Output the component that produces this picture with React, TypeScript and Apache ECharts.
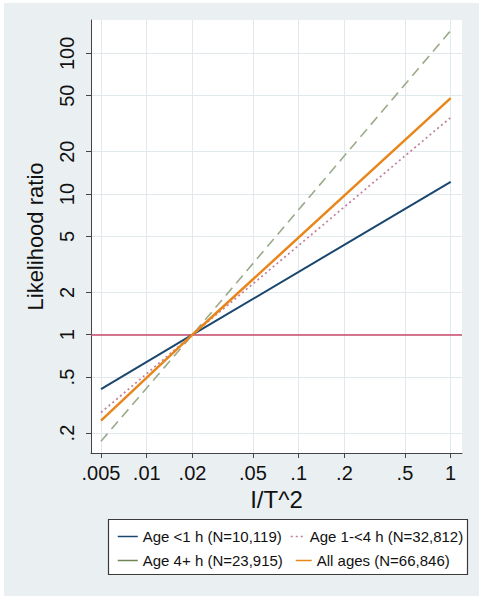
import React, { useEffect, useRef } from "react";
import * as echarts from "echarts";

// Axis ticks
const xTicks = [0.005, 0.01, 0.02, 0.05, 0.1, 0.2, 0.5, 1];
const yTicks = [0.2, 0.5, 1, 2, 5, 10, 20, 50, 100];

const xPoints = [0.005, 0.02, 1];
const ageLt1 = [0.41, 1, 12.2];
const age1to4 = [0.28, 1, 35];
const age4plus = [0.175, 1, 145];
const allAges = [0.245, 1, 48];
const refValue = 1;

const seriesNames = [
  "Age <1 h (N=10,119)",
  "Age 1-<4 h (N=32,812)",
  "Age 4+ h (N=23,915)",
  "All ages (N=66,846)",
];

const FONT = "'Liberation Sans', Arial, Helvetica, sans-serif";

const fmt = (v: number) => {
  const s = String(+Number(v).toPrecision(6));
  return s.startsWith("0.") ? s.slice(1) : s;
};

const pairs = (ys: number[]) => xPoints.map((x, i) => [x, ys[i]]);

export default function App() {
  const ref = useRef<HTMLDivElement>(null);
  useEffect(() => {
    if (!ref.current) return;
    const chart = echarts.init(ref.current, null, { renderer: "svg" });
    const axisLineStyle = { color: "#444", width: 1 };
    const legendBase = {
      orient: "horizontal",
      padding: 0,
      itemHeight: 14,
      z: 10,
      itemStyle: { opacity: 0, borderWidth: 0 },
      lineStyle: { width: 1.5 },
      textStyle: { fontSize: 15, color: "#111", fontFamily: FONT },
      selectedMode: false,
    };
    chart.setOption({
      animation: false,
      backgroundColor: "#eaf0f2",
      textStyle: { fontFamily: FONT },
      grid: {
        left: 87,
        top: 17,
        width: 371,
        height: 433,
        show: true,
        backgroundColor: "#ffffff",
        borderWidth: 0,
      },
      xAxis: {
        type: "log",
        logBase: 10,
        min: 0.004297,
        max: 1.187,
        name: "I/T^2",
        nameLocation: "middle",
        nameGap: 31,
        nameTextStyle: { fontSize: 24, color: "#111", fontFamily: FONT },
        axisLine: { show: true, lineStyle: axisLineStyle },
        axisTick: { show: true, length: 5, customValues: xTicks, lineStyle: axisLineStyle },
        axisLabel: {
          customValues: xTicks,
          formatter: (v: number) => fmt(v),
          fontSize: 20,
          color: "#111",
          margin: 10,
          fontFamily: FONT,
        },
        splitLine: { show: true, lineStyle: { color: "#e2e9ec", width: 1 } },
        minorTick: { show: false },
        minorSplitLine: { show: false },
      },
      yAxis: {
        type: "log",
        logBase: 10,
        min: 0.1443,
        max: 172.5,
        name: "Likelihood ratio",
        nameLocation: "middle",
        nameGap: 45,
        nameTextStyle: { fontSize: 22, color: "#111", fontFamily: FONT },
        axisLine: { show: true, lineStyle: axisLineStyle },
        axisTick: { show: true, length: 5, customValues: yTicks, lineStyle: axisLineStyle },
        axisLabel: {
          customValues: yTicks,
          formatter: (v: number) => fmt(v),
          rotate: 90,
          fontSize: 20,
          color: "#111",
          margin: 14,
          fontFamily: FONT,
        },
        splitLine: { show: true, lineStyle: { color: "#e2e9ec", width: 1 } },
      },
      legend: [
        { ...legendBase, data: [seriesNames[0]], left: 113, top: 526, itemWidth: 20 },
        { ...legendBase, data: [seriesNames[1]], left: 286, top: 526, itemWidth: 14 },
        {
          ...legendBase,
          data: [seriesNames[2]],
          left: 113,
          top: 550,
          itemWidth: 20,
          lineStyle: { width: 1.5, type: "solid", color: "#6f8456" },
        },
        { ...legendBase, data: [seriesNames[3]], left: 291, top: 550, itemWidth: 16 },
      ],
      graphic: [
        {
          type: "rect",
          z: 5,
          shape: { x: 104.5, y: 516.5, width: 359, height: 55 },
          style: { fill: "#ffffff", stroke: "#3a3a3a", lineWidth: 1.2 },
        },
      ],
      series: [
        {
          name: seriesNames[0],
          type: "line",
          data: pairs(ageLt1),
          symbol: "none",
          z: 3,
          lineStyle: { color: "#1a476f", width: 2 },
          itemStyle: { color: "#1a476f" },
          markLine: {
            silent: true,
            symbol: "none",
            label: { show: false },
            lineStyle: { color: "#c8496b", width: 1.6, type: "solid" },
            data: [{ yAxis: refValue }],
            z: 2,
          },
        },
        {
          name: seriesNames[1],
          type: "line",
          data: pairs(age1to4),
          symbol: "none",
          z: 3,
          lineStyle: { color: "#c07f9c", width: 1.7, type: [2, 3] },
          itemStyle: { color: "#c07f9c" },
        },
        {
          name: seriesNames[2],
          type: "line",
          data: pairs(age4plus),
          symbol: "none",
          z: 3,
          lineStyle: { color: "#9aab8a", width: 1.6, type: [10, 6] },
          itemStyle: { color: "#9aab8a" },
        },
        {
          name: seriesNames[3],
          type: "line",
          data: pairs(allAges),
          symbol: "none",
          z: 4,
          lineStyle: { color: "#e8861c", width: 2.5 },
          itemStyle: { color: "#e8861c" },
        },
      ],
    });
    return () => chart.dispose();
  }, []);
  return (
    <div style={{ position: "fixed", left: 0, top: 0, width: 486, height: 600, background: "#ffffff" }}>
      <div ref={ref} style={{ position: "absolute", left: 4, top: 3, width: 475, height: 593 }} />
    </div>
  );
}
